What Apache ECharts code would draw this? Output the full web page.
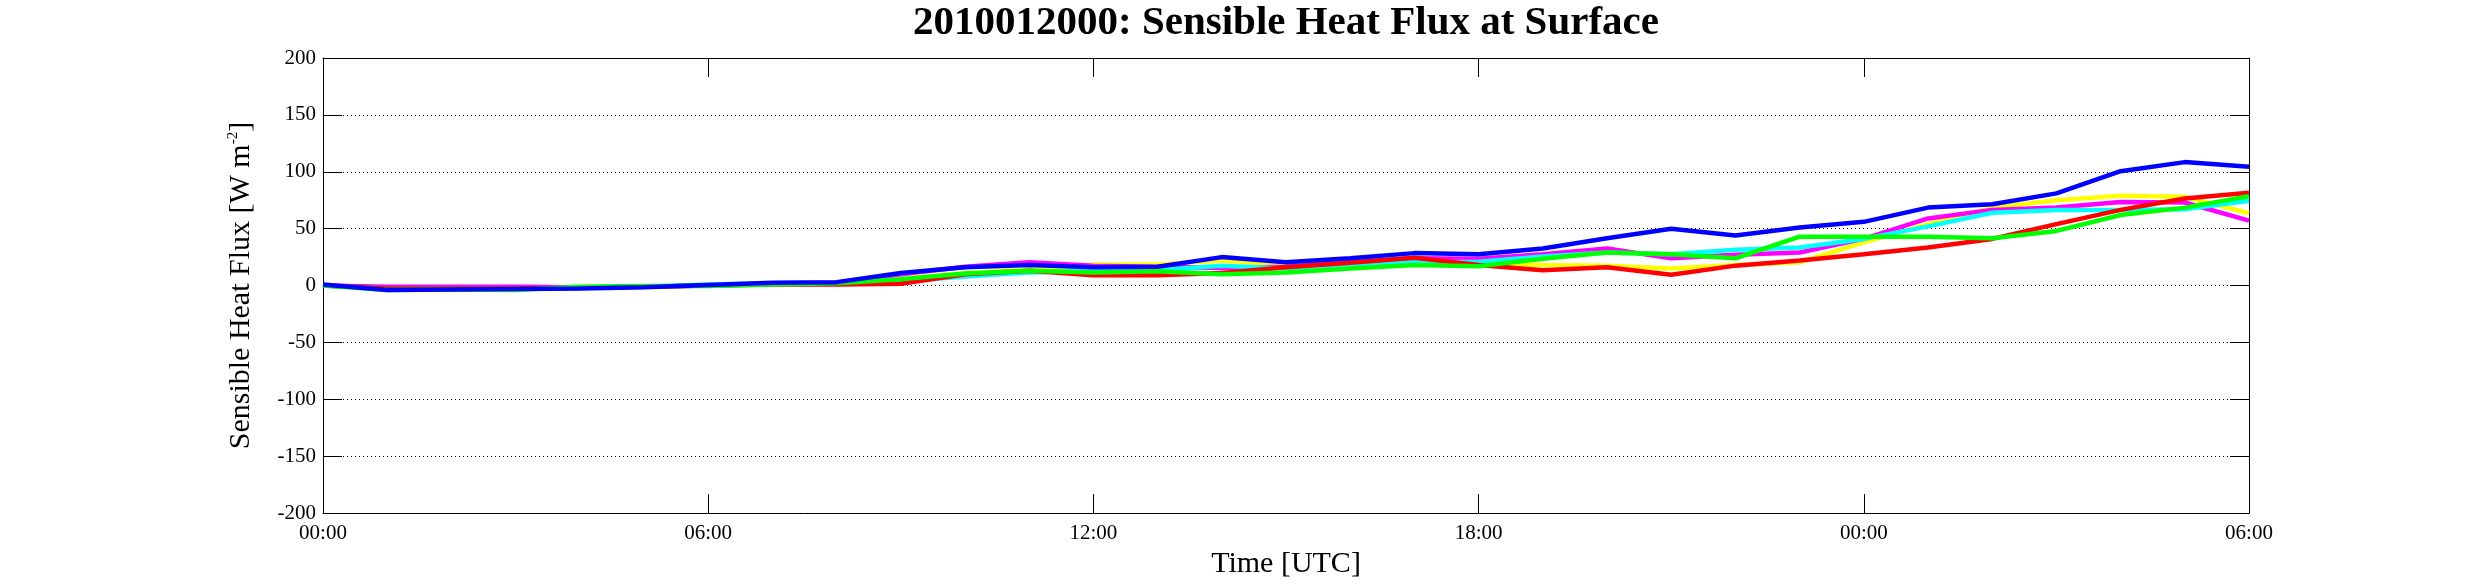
<!DOCTYPE html>
<html>
<head>
<meta charset="utf-8">
<script src="https://cdn.jsdelivr.net/npm/echarts@6/dist/echarts.min.js"></script>
<style>html,body{margin:0;padding:0;background:#fff}#c{width:2485px;height:584px}</style>
</head>
<body>
<div id="c"></div>
<script>
var hours = ['00:00','01:00','02:00','03:00','04:00','05:00','06:00','07:00','08:00','09:00','10:00','11:00',
  '12:00','13:00','14:00','15:00','16:00','17:00','18:00','19:00','20:00','21:00','22:00','23:00',
  '00:00','01:00','02:00','03:00','04:00','05:00','06:00'];
var yellowVals  = [0,-1.5,-1.5,-1.5,-1.5,-1,0.5,1.5,2.5,6,11,14,18.5,18.5,22,18.5,18,19,19,18,17.5,15,18,20.5,38,54,68.5,75,79,78,63.5];
var magentaVals = [0,-1,-1,-1,-1.5,-1,0,1.5,2.5,10,16.5,20.5,17.5,16.5,15.5,16.5,20.5,24,23.5,27.5,32.5,24,27,29,41,59,66.5,68.5,73.5,73,57];
var cyanVals    = [0,-2.5,-2.5,-2.5,-2,-1,1,2,2.5,3.5,8,11.5,13,13.5,17.5,15,18.5,20.5,21,25.5,29,27.5,31.5,33.5,41,52,64,66.5,66.5,67,74.5];
var redVals     = [0,-2.5,-2.5,-2.5,-2,-1,0,1,1,1.5,10,13,9,9,11,16,20,24.5,18,13.5,16,9.5,17.5,22,27.5,33.5,41,54,66.5,76.5,81.5];
var greenVals   = [0,-4,-3.5,-4,-1,-0.5,-0.5,1,2,5.5,10.5,13,11.5,12.5,10,11.5,15,18,17,23.5,29,27.5,24,43,43,43,41.5,48,62,68.5,78.5];
var blueVals    = [1,-4,-3.5,-3,-2.5,-1.5,0.5,2.5,3,11,16,18,16,16.5,25,20.5,24,28.5,27.5,32.5,41.5,50,44,51,56,68.5,71.5,81,100.5,108.5,104.5];
var seriesDefs = [
  {name:'y', color:'#ffff00', data:yellowVals},
  {name:'m', color:'#ff00ff', data:magentaVals},
  {name:'c', color:'#00ffff', data:cyanVals},
  {name:'r', color:'#ff0000', data:redVals},
  {name:'g', color:'#00ff00', data:greenVals},
  {name:'b', color:'#0000ff', data:blueVals}
];
var FONT = 'Liberation Serif';
var chart = echarts.init(document.getElementById('c'), null, {renderer:'canvas'});
function axisLine(){ return {show:true, onZero:false, lineStyle:{color:'#000', width:1}}; }
function tick(extra){ return Object.assign({show:true, inside:true, length:19, lineStyle:{color:'#000', width:1}}, extra || {}); }
chart.setOption({
  animation:false,
  backgroundColor:'#fff',
  title:{
    text:'2010012000: Sensible Heat Flux at Surface',
    left:1286, top:3, padding:0, textAlign:'center',
    textStyle:{fontFamily:FONT, fontWeight:'bold', fontSize:41, color:'#000'}
  },
  grid:{left:323, right:236, top:58, bottom:68, containLabel:false},
  xAxis:[{
    type:'category', data:hours, boundaryGap:false, position:'bottom',
    name:'Time [UTC]', nameLocation:'middle', nameGap:35,
    nameTextStyle:{fontFamily:FONT, fontSize:30, color:'#000'},
    axisLine:axisLine(),
    axisTick:tick({interval:5}),
    axisLabel:{interval:5, margin:10, fontFamily:FONT, fontSize:21, color:'#000'},
    splitLine:{show:false}
  },{
    type:'category', data:hours, boundaryGap:false, position:'top',
    axisLine:axisLine(),
    axisTick:tick({interval:5}),
    axisLabel:{show:false}, splitLine:{show:false}
  }],
  yAxis:[{
    type:'value', min:-200, max:200, interval:50, position:'left',
    name:'Sensible Heat Flux [W m{sup|-2}]', nameLocation:'middle', nameGap:67,
    nameTextStyle:{fontFamily:FONT, fontSize:30, lineHeight:30, color:'#000',
      rich:{sup:{fontFamily:FONT, fontSize:15, lineHeight:15, verticalAlign:'top', color:'#000'}}},
    axisLine:axisLine(), axisTick:tick(),
    axisLabel:{margin:7, fontFamily:FONT, fontSize:21, color:'#000'},
    splitLine:{show:true, lineStyle:{color:'#000', width:1, type:[1,3]}}
  },{
    type:'value', min:-200, max:200, interval:50, position:'right',
    axisLine:axisLine(), axisTick:tick(), axisLabel:{show:false}, splitLine:{show:false}
  }],
  series:seriesDefs.map(function(s){
    return {name:s.name, type:'line', data:s.data, xAxisIndex:0, yAxisIndex:0,
      symbol:'none', smooth:false, lineStyle:{color:s.color, width:4.5}, itemStyle:{color:s.color}};
  })
});
</script>
</body>
</html>
